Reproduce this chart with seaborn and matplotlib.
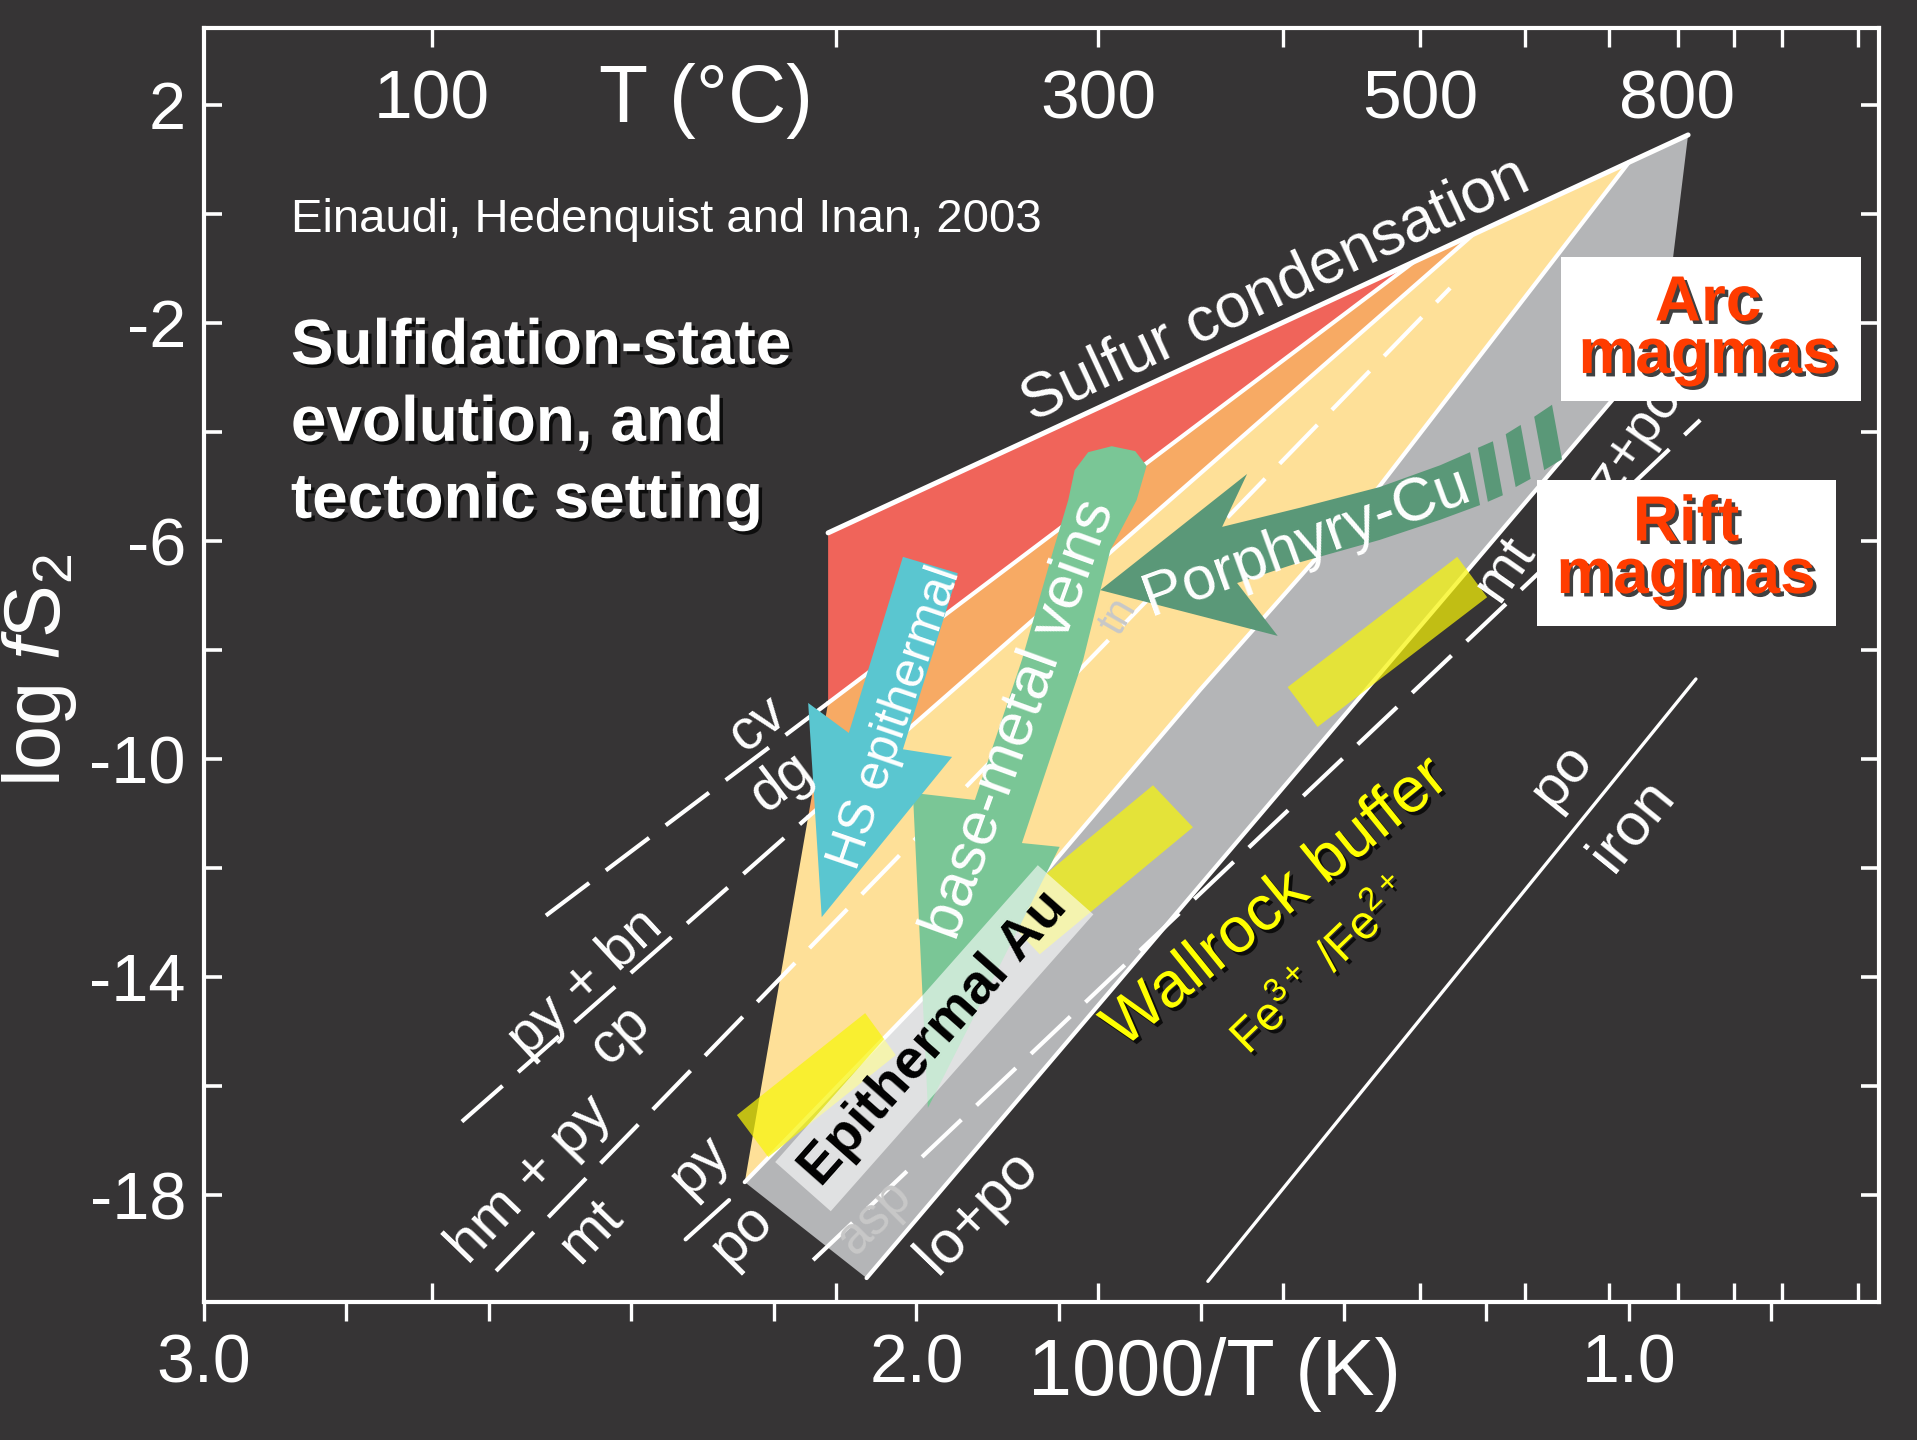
"""
Sulfidation-state evolution diagram (log fS2 vs 1000/T),
after Einaudi, Hedenquist and Inan (2003).
"""

import numpy as np
import matplotlib.pyplot as plt
import matplotlib.patheffects as pe
from matplotlib.patches import Rectangle
from matplotlib.ticker import FixedLocator, FixedFormatter
import seaborn as sns

# =============================================================================
# Data  (x = 1000/T in 1/K, y = log fS2)
# =============================================================================

# sulfidation-state fields
red_x = [2.124, 1.302, 2.124]
red_y = [-5.85, -0.88, -8.97]
orange_x = [2.124, 1.302, 1.219, 2.152]
orange_y = [-8.97, -0.88, -0.38, -11.06]
peach_x = [2.152, 1.219, 1.000, 1.354, 1.602, 1.813, 2.241]
peach_y = [-11.06, -0.38, 0.95, -5.06, -8.73, -11.98, -17.76]
gray_x = [2.241, 1.813, 1.602, 1.354, 1.000, 0.917, 0.938, 0.964, 2.070]
gray_y = [-17.76, -11.98, -8.73, -5.06, 0.95, 1.45, -0.79, -2.50, -19.52]

# reaction lines
sulfur_x, sulfur_y = [2.124, 0.917], [-5.85, 1.45]
cv_dg_x, cv_dg_y = [2.52, 2.124], [-12.87, -8.97]
red_orange_x, red_orange_y = [2.124, 1.302], [-8.97, -0.88]
py_bn_x, py_bn_y = [2.638, 2.152], [-16.65, -11.06]
orange_peach_x, orange_peach_y = [2.152, 1.219], [-11.06, -0.38]
hm_py_x, hm_py_y = [2.590, 1.251], [-19.39, -1.36]
py_po_x = [2.241, 1.813, 1.602, 1.354, 1.000]
py_po_y = [-17.76, -11.98, -8.73, -5.06, 0.95]
py_po_stub_x, py_po_stub_y = [2.324, 2.263], [-18.81, -18.09]
gray_low_x, gray_low_y = [2.070, 0.964], [-19.52, -2.50]
asp_x, asp_y = [2.145, 0.900], [-19.19, -3.78]
po_iron_x, po_iron_y = [1.591, 0.906], [-19.58, -8.53]

# wallrock buffer bars
wall_a_x, wall_a_y = [2.252, 2.072, 2.029, 2.208], [-16.53, -14.66, -15.43, -17.30]
wall_b_x, wall_b_y = [1.883, 1.668, 1.612, 1.827], [-12.81, -10.48, -11.25, -13.58]
wall_c_x, wall_c_y = [1.479, 1.241, 1.199, 1.437], [-8.68, -6.29, -7.03, -9.41]

# evolution arrows
hs_x = [2.019, 2.095, 2.152, 2.133, 1.950, 2.019, 1.942]
hs_y = [-6.29, -9.52, -8.97, -12.90, -9.96, -9.82, -6.59]
bm_x = [1.728, 1.766, 1.852, 1.799, 1.984, 2.005, 1.918, 1.852,
        1.808, 1.787, 1.778, 1.759, 1.726, 1.693, 1.677, 1.691]
bm_y = [-6.17, -8.18, -11.54, -11.61, -16.40, -10.62, -10.75, -8.18,
        -6.17, -5.25, -4.70, -4.37, -4.26, -4.35, -4.62, -5.25]
pc_x = [1.742, 1.536, 1.571, 1.462, 1.350, 1.265, 1.223,
        1.209, 1.265, 1.350, 1.462, 1.550, 1.493]
pc_y = [-6.90, -4.77, -5.74, -5.39, -5.01, -4.61, -4.37,
        -5.34, -5.61, -5.98, -6.39, -6.77, -7.74]
pc_stripe1_x, pc_stripe1_y = [1.212, 1.191, 1.177, 1.198], [-4.29, -4.17, -5.16, -5.28]
pc_stripe2_x, pc_stripe2_y = [1.173, 1.152, 1.138, 1.159], [-4.04, -3.87, -4.86, -5.01]
pc_stripe3_x, pc_stripe3_y = [1.133, 1.108, 1.094, 1.119], [-3.72, -3.50, -4.50, -4.70]

# axes ticks
inv_t_major = [3.0, 2.0, 1.0]
inv_t_labels = ["3.0", "2.0", "1.0"]
inv_t_minor = [2.8, 2.6, 2.4, 2.2, 1.8, 1.6, 1.4, 1.2, 0.8]
celsius_ticks = [100, 200, 300, 400, 500, 600, 700, 800, 900, 1000, 1200]
celsius_labels = ["100", "", "300", "", "500", "", "", "800", "", "", ""]
fs2_major = [2, -2, -6, -10, -14, -18]
fs2_minor = [0, -4, -8, -12, -16]

# =============================================================================
# Style
# =============================================================================
BG = "#363435"
RED, ORANGE, PEACH, GRAY = "#F0645A", "#F7AA64", "#FEE098", "#B4B5B7"
CYAN, GREEN, DKGREEN = "#5AC6D0", "#7AC696", "#5A9878"
YELLOW, MAGMA = "#F8F508", "#FF3C00"

sns.set_theme(style="dark", rc={
    "axes.facecolor": BG, "figure.facecolor": BG,
    "axes.edgecolor": "white", "axes.linewidth": 3.0,
    "text.color": "white", "axes.labelcolor": "white",
    "xtick.color": "white", "ytick.color": "white",
    "axes.grid": False, "axes.unicode_minus": False,
})
NARROW = ["Liberation Sans Narrow", "Liberation Sans", "DejaVu Sans"]
ARIAL = ["Liberation Sans", "DejaVu Sans"]
plt.rcParams["font.family"] = NARROW
plt.rcParams["mathtext.fontset"] = "custom"
plt.rcParams["mathtext.rm"] = "Liberation Sans"
plt.rcParams["mathtext.it"] = "Liberation Sans:italic"

shadow = [pe.withSimplePatchShadow(offset=(2.5, -2.5), shadow_rgbFace="black", alpha=0.75)]

fig = plt.figure(figsize=(19.17, 14.4), dpi=100)
ax = fig.add_axes([0.1064, 0.0958, 0.8738, 0.8847])
ax.set_xlim(3.0, 0.649)
ax.set_ylim(-19.96, 3.41)

# fields
for xs, ys, c in [(red_x, red_y, RED), (orange_x, orange_y, ORANGE),
                  (peach_x, peach_y, PEACH), (gray_x, gray_y, GRAY)]:
    ax.fill(xs, ys, color=c, lw=0, zorder=1)

# reaction lines
DASH = (0, (13, 5))
lines = [
    (sulfur_x, sulfur_y, "-", 3.6),
    (cv_dg_x, cv_dg_y, DASH, 3.0),
    (red_orange_x, red_orange_y, "-", 3.0),
    (py_bn_x, py_bn_y, DASH, 3.0),
    (orange_peach_x, orange_peach_y, "-", 3.0),
    (hm_py_x, hm_py_y, DASH, 3.0),
    (py_po_x, py_po_y, "-", 3.0),
    (py_po_stub_x, py_po_stub_y, "-", 3.0),
    (gray_low_x, gray_low_y, "-", 3.0),
    (asp_x, asp_y, DASH, 3.0),
    (po_iron_x, po_iron_y, "-", 2.4),
]
for xs, ys, ls, lw in lines:
    sns.lineplot(x=xs, y=ys, ax=ax, color="white", linewidth=lw, linestyle=ls,
                 sort=False, estimator=None, legend=False, zorder=2)

# wallrock buffer bars
for xs, ys in [(wall_a_x, wall_a_y), (wall_b_x, wall_b_y), (wall_c_x, wall_c_y)]:
    ax.fill(xs, ys, color=YELLOW, alpha=0.72, lw=0, zorder=3)

# arrows
ax.fill(bm_x, bm_y, color=GREEN, lw=0, zorder=4)
ax.fill(hs_x, hs_y, color=CYAN, lw=0, zorder=4)
for xs, ys in [(pc_x, pc_y), (pc_stripe1_x, pc_stripe1_y),
               (pc_stripe2_x, pc_stripe2_y), (pc_stripe3_x, pc_stripe3_y)]:
    ax.fill(xs, ys, color=DKGREEN, lw=0, zorder=5)


def label(x, y, s, rot, size, color="white", z=6, **kw):
    kw.setdefault("family", ARIAL)
    return ax.text(x, y, s, rotation=rot, rotation_mode="anchor", ha="center",
                   va="center", fontsize=size, color=color, zorder=z, **kw)


# arrow texts
label(2.029, -9.25, "HS epithermal", 71, 36)
label(1.855, -9.27, "base-metal veins", 70, 44)
label(1.453, -6.02, "Porphyry-Cu", 20, 44)
label(1.975, -15.12, "Epithermal Au", 48.5, 40, color="black", z=7, weight="bold",
      bbox=dict(boxstyle="square,pad=0.2", fc="white", ec="none", alpha=0.6))
label(1.716, -7.39, "tn", 60, 30, color="#C8C8C8", z=4.5)

# reaction labels
label(1.497, -1.40, "Sulfur condensation", 25, 45)
label(2.222, -9.36, "cv", 37, 41)
label(2.189, -10.42, "dg", 37, 41)
label(2.465, -14.10, "py + bn", 43, 41)
label(2.416, -15.05, "cp", 43, 41)
label(2.542, -17.72, "hm + py", 46, 42)
label(2.457, -18.66, "mt", 46, 42)
label(2.304, -17.45, "py", 45, 41)
label(2.245, -18.72, "po", 45, 41)
label(2.058, -18.40, "asp", 45, 37, color="#C8C8C8")
label(1.914, -18.31, "lo+po", 46, 43)
label(1.175, -6.50, "mt", 55, 42)
label(0.996, -4.26, "tz+po", 55, 40)
label(1.094, -10.31, "po", 51, 42)
label(0.996, -11.21, "iron", 51, 43)
label(1.495, -12.64, "Wallrock buffer", 39, 46, color="#FFFF00", path_effects=shadow)
label(1.430, -13.80, "Fe$^{3+}$ /Fe$^{2+}$", 44, 34, color="#FFFF00", path_effects=shadow)

# titles / credits
ax.text(2.878, -0.33, "Einaudi, Hedenquist and Inan, 2003", family=ARIAL,
        fontsize=34, ha="left", va="baseline", zorder=6)
ax.text(2.878, -3.85, "Sulfidation-state\nevolution, and\ntectonic setting",
        family=ARIAL, weight="bold", fontsize=46, linespacing=1.36,
        ha="left", va="center", zorder=6, path_effects=shadow)

# magma boxes
for x0, y0, w, h in [(0.8143, 0.7215, 0.1565, 0.100), (0.8018, 0.5653, 0.1560, 0.1014)]:
    fig.add_artist(Rectangle((x0, y0), w, h, transform=fig.transFigure,
                             fc="white", ec="none", zorder=10))
for x, y, s in [(0.8910, 0.7410, "Arc\nmagmas"), (0.8795, 0.5882, "Rift\nmagmas")]:
    fig.text(x, y, s, ha="center", va="baseline", family=ARIAL, weight="bold",
             fontsize=46, color=MAGMA, zorder=11, linespacing=0.84,
             multialignment="center", path_effects=shadow)

# =============================================================================
# Axes, ticks, labels
# =============================================================================
ax.xaxis.set_major_locator(FixedLocator(inv_t_major))
ax.xaxis.set_major_formatter(FixedFormatter(inv_t_labels))
ax.xaxis.set_minor_locator(FixedLocator(inv_t_minor))
ax.yaxis.set_major_locator(FixedLocator(fs2_major))
ax.yaxis.set_minor_locator(FixedLocator(fs2_minor))
ax.tick_params(axis="x", which="both", direction="out", length=14, width=2.4,
               bottom=True, top=False, labelsize=49, pad=8)
ax.tick_params(axis="y", which="both", direction="in", length=13, width=2.6,
               left=True, right=True, labelsize=48, pad=13)
for s in ax.spines.values():
    s.set_color("white")
    s.set_linewidth(3.0)


def to_celsius(x):
    x = np.asarray(x, dtype=float)
    with np.errstate(divide="ignore", invalid="ignore"):
        return 1000.0 / x - 273.15


def to_inverse(t):
    t = np.asarray(t, dtype=float)
    with np.errstate(divide="ignore", invalid="ignore"):
        return 1000.0 / (t + 273.15)


sec_top = ax.secondary_xaxis("top", functions=(to_celsius, to_inverse))
sec_top.set_xticks(celsius_ticks, labels=celsius_labels)
sec_top.tick_params(axis="x", direction="in", length=14, width=2.4,
                    labelsize=50, pad=-75, colors="white")
sec_bot = ax.secondary_xaxis("bottom", functions=(to_celsius, to_inverse))
sec_bot.set_xticks(celsius_ticks)
sec_bot.tick_params(axis="x", direction="in", length=14, width=2.4,
                    labelbottom=False, colors="white")
for sec in (sec_top, sec_bot):
    for s in sec.spines.values():
        s.set_visible(False)

ax.text(0.2997, 0.943, "T (°C)", transform=ax.transAxes, fontsize=58,
        ha="center", va="center")
ax.set_xlabel("1000/T (K)", fontsize=57)
ax.xaxis.set_label_coords(0.603, -0.057)
ax.xaxis.label.set_va("center")
ax.set_ylabel(r"log $\mathit{f}$S$_2$", fontsize=57)
ax.yaxis.set_label_coords(-0.098, 0.496)
ax.yaxis.label.set_va("center")

fig.savefig("out.png", dpi=100, facecolor=fig.get_facecolor())
